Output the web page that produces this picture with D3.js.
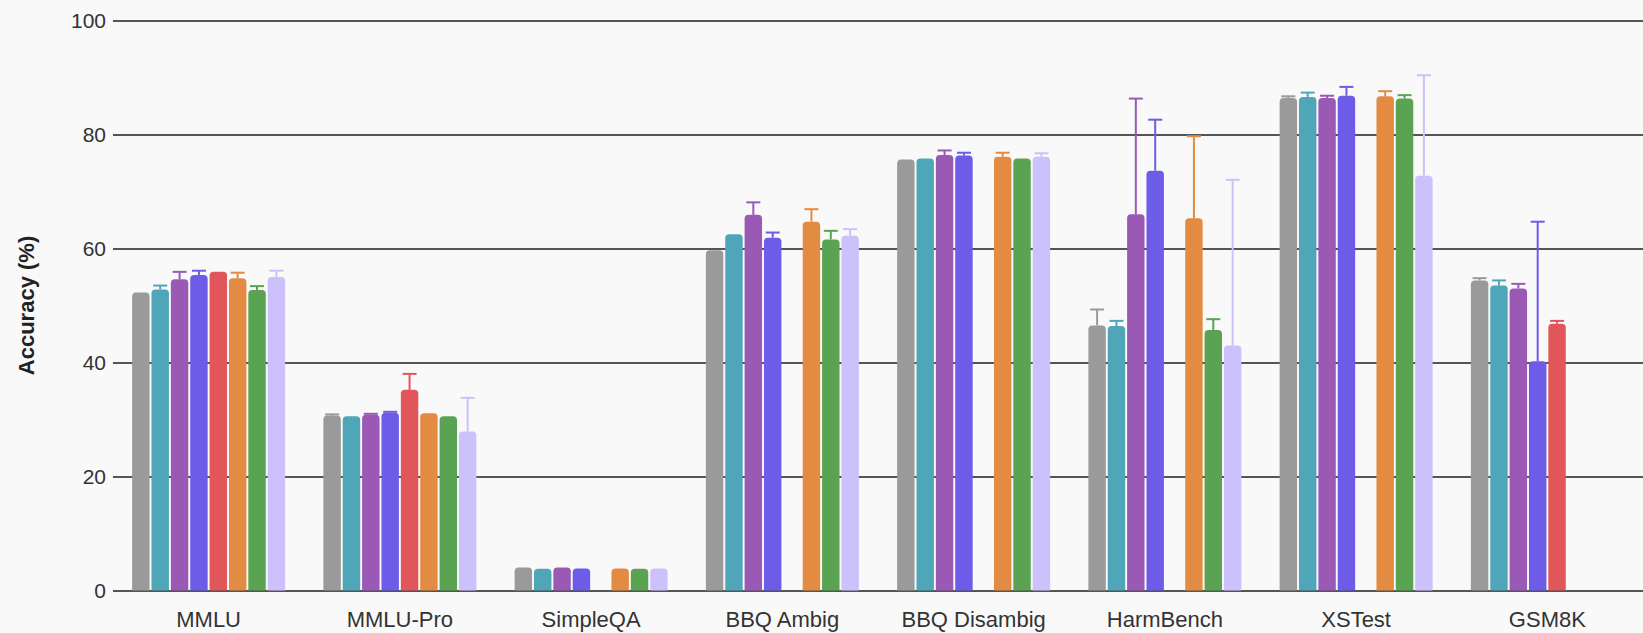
<!DOCTYPE html>
<html>
<head>
<meta charset="utf-8">
<script src="https://cdn.jsdelivr.net/npm/d3@7"></script>
<style>
  html, body { margin: 0; padding: 0; background: #f9f9f9; }
  svg { display: block; }
  text { font-family: "Liberation Sans", Arial, Helvetica, sans-serif; }
</style>
</head>
<body>
<svg id="chart" width="1643" height="633"></svg>
<script>
const categories = ["MMLU", "MMLU-Pro", "SimpleQA", "BBQ Ambig", "BBQ Disambig", "HarmBench", "XSTest", "GSM8K"];
const seriesNames = ["Model 1", "Model 2", "Model 3", "Model 4", "Model 5", "Model 6", "Model 7", "Model 8"];
const seriesColors = ["#9a9a9a", "#4fa6b9", "#9b59b6", "#6c5ce7", "#e1565b", "#e38b43", "#5aa352", "#cdc1fb"];

// values per category, in series order (null = not reported)
const valMMLU        = [52.3, 52.8, 54.6, 55.35, 55.9, 54.8, 52.7, 55.0];
const valMMLUPro     = [30.7, 30.55, 30.85, 31.2, 35.2, 31.1, 30.55, 27.9];
const valSimpleQA    = [4.05, 3.8, 4.05, 3.85, null, 3.85, 3.8, 3.85];
const valBBQAmbig    = [59.7, 62.5, 65.9, 61.9, null, 64.7, 61.6, 62.25];
const valBBQDisambig = [75.6, 75.8, 76.4, 76.3, null, 76.1, 75.8, 76.1];
const valHarmBench   = [46.5, 46.4, 66.0, 73.65, null, 65.3, 45.7, 43.0];
const valXSTest      = [86.4, 86.6, 86.4, 86.8, null, 86.7, 86.3, 72.75];
const valGSM8K       = [54.4, 53.5, 53.0, 40.2, 46.8, null, null, null];

// upper error amounts
const errMMLU        = [0, 0.7, 1.3, 0.75, 0, 0.95, 0.7, 1.1];
const errMMLUPro     = [0.2, 0, 0.15, 0.15, 2.8, 0, 0, 5.9];
const errSimpleQA    = [0, 0, 0, 0, null, 0, 0, 0];
const errBBQAmbig    = [0, 0, 2.2, 0.9, null, 2.2, 1.5, 1.15];
const errBBQDisambig = [0, 0, 0.8, 0.5, null, 0.7, 0, 0.6];
const errHarmBench   = [2.8, 0.9, 20.3, 8.95, null, 14.4, 1.9, 29.05];
const errXSTest      = [0.3, 0.75, 0.4, 1.55, null, 0.9, 0.6, 17.65];
const errGSM8K       = [0.4, 0.9, 0.8, 24.5, 0.5, null, null, null];

const yTicks = [0, 20, 40, 60, 80, 100];
const yLabel = "Accuracy (%)";

const allVals = [valMMLU, valMMLUPro, valSimpleQA, valBBQAmbig, valBBQDisambig, valHarmBench, valXSTest, valGSM8K];
const allErrs = [errMMLU, errMMLUPro, errSimpleQA, errBBQAmbig, errBBQDisambig, errHarmBench, errXSTest, errGSM8K];

const W = 1643, H = 633;
const margin = {left: 113, right: 0, top: 20.5, bottom: 42.5};
const svg = d3.select("#chart");

const x0 = d3.scaleBand().domain(categories).range([margin.left, W - margin.right]).paddingInner(0.2).paddingOuter(0.1);
const x1 = d3.scaleBand().domain(d3.range(seriesNames.length)).range([0, x0.bandwidth()]).paddingInner(0.1);
const y = d3.scaleLinear().domain([0, 100]).range([H - margin.bottom, margin.top]);

// grid / y axis
const yAxis = svg.append("g")
  .attr("transform", `translate(${margin.left},0)`)
  .call(d3.axisLeft(y).tickValues(yTicks).tickSize(-(W - margin.left - margin.right)).tickPadding(7));
yAxis.select(".domain").remove();
yAxis.selectAll(".tick line").attr("stroke", "#555").attr("stroke-width", 2);
yAxis.selectAll(".tick text").attr("font-size", 21).attr("fill", "#333")
  .attr("font-family", "'Liberation Sans', Arial, sans-serif");

// y label
svg.append("text")
  .attr("transform", `translate(34,${(y(0) + y(100)) / 2}) rotate(-90)`)
  .attr("text-anchor", "middle")
  .attr("font-size", 22)
  .attr("font-weight", "bold")
  .attr("fill", "#222")
  .text(yLabel);

// data rows
const rows = [];
categories.forEach((c, ci) => {
  allVals[ci].forEach((v, si) => {
    if (v === null) return;
    rows.push({cat: c, s: si, v: v, e: allErrs[ci][si] || 0});
  });
});

function topRounded(xp, yp, w, h, r) {
  r = Math.min(r, w / 2, h);
  return `M${xp},${yp + h}V${yp + r}Q${xp},${yp} ${xp + r},${yp}H${xp + w - r}Q${xp + w},${yp} ${xp + w},${yp + r}V${yp + h}Z`;
}

const g = svg.append("g");

// error whiskers (upper)
const errRows = rows.filter(d => d.e > 0);
g.selectAll("line.stem").data(errRows).join("line")
  .attr("x1", d => x0(d.cat) + x1(d.s) + x1.bandwidth() / 2)
  .attr("x2", d => x0(d.cat) + x1(d.s) + x1.bandwidth() / 2)
  .attr("y1", d => y(d.v))
  .attr("y2", d => y(d.v + d.e))
  .attr("stroke", d => seriesColors[d.s])
  .attr("stroke-width", 2);
g.selectAll("line.cap").data(errRows).join("line")
  .attr("x1", d => x0(d.cat) + x1(d.s) + x1.bandwidth() / 2 - 7)
  .attr("x2", d => x0(d.cat) + x1(d.s) + x1.bandwidth() / 2 + 7)
  .attr("y1", d => y(d.v + d.e))
  .attr("y2", d => y(d.v + d.e))
  .attr("stroke", d => seriesColors[d.s])
  .attr("stroke-width", 2);

// bars
g.selectAll("path.bar").data(rows).join("path")
  .attr("class", "bar")
  .attr("d", d => topRounded(x0(d.cat) + x1(d.s), y(d.v), x1.bandwidth(), y(0) - y(d.v), 4))
  .attr("fill", d => seriesColors[d.s]);

// x axis labels
const xAxis = svg.append("g")
  .attr("transform", `translate(0,${y(0)})`)
  .call(d3.axisBottom(x0).tickSize(0).tickPadding(21));
xAxis.select(".domain").remove();
xAxis.selectAll(".tick text").attr("font-size", 22).attr("fill", "#333")
  .attr("font-family", "'Liberation Sans', Arial, sans-serif");
</script>
</body>
</html>
